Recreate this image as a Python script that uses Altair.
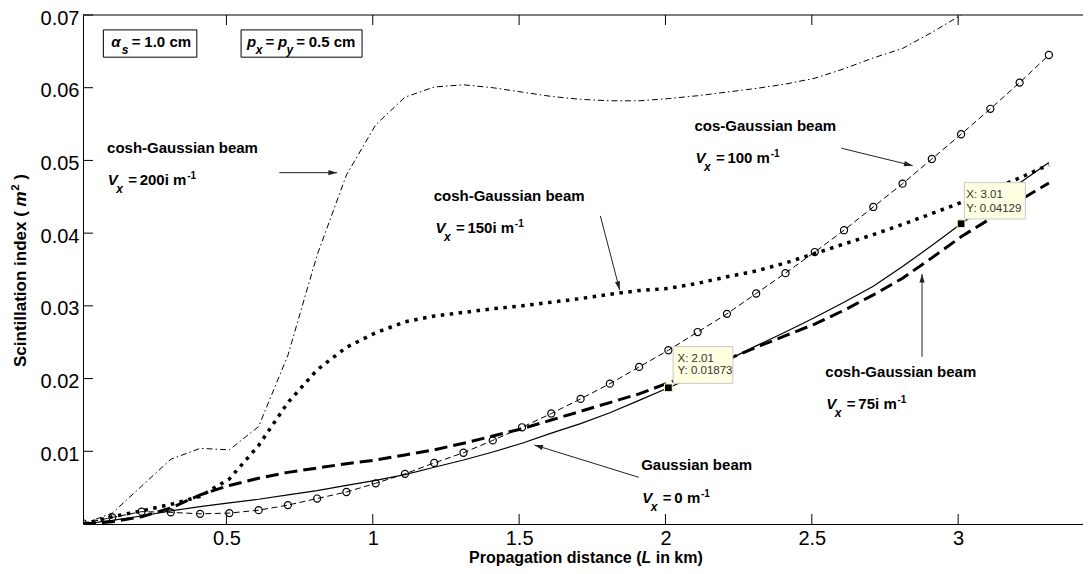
import math
import altair as alt
import pandas as pd

# ---------------- data ----------------
distance_km = [0.01, 0.11, 0.21, 0.31, 0.41, 0.51, 0.61, 0.71, 0.81, 0.91,
               1.01, 1.11, 1.21, 1.31, 1.41, 1.51, 1.61, 1.71, 1.81, 1.91,
               2.01, 2.11, 2.21, 2.31, 2.41, 2.51, 2.61, 2.71, 2.81, 2.91,
               3.01, 3.11, 3.21, 3.31]

gaussian_v0 = [0.0000, 0.0005, 0.0011, 0.0018, 0.0024, 0.0029, 0.0034, 0.0040, 0.0046, 0.0053,
               0.0060, 0.0068, 0.0078, 0.0088, 0.0099, 0.0111, 0.0125, 0.0138, 0.0153, 0.0170,
               0.01873, 0.0205, 0.0225, 0.0245, 0.0264, 0.0284, 0.0305, 0.0327, 0.0354, 0.0383,
               0.04129, 0.0441, 0.0469, 0.0497]

cosh_v75i = [0.0000, 0.0003, 0.0010, 0.0022, 0.0040, 0.0053, 0.0063, 0.0071, 0.0077, 0.0083,
             0.0088, 0.0095, 0.0102, 0.0111, 0.0121, 0.0131, 0.0143, 0.0155, 0.0167, 0.0179,
             0.0194, 0.0209, 0.0226, 0.0243, 0.0259, 0.0275, 0.0294, 0.0315, 0.0338, 0.0366,
             0.0395, 0.0420, 0.0445, 0.0469]

cosh_v150i = [0.0000, 0.0010, 0.0018, 0.0027, 0.0038, 0.0062, 0.0108, 0.0167, 0.0212, 0.0243,
              0.0263, 0.0278, 0.0286, 0.0291, 0.0296, 0.0300, 0.0305, 0.0310, 0.0316, 0.0321,
              0.0324, 0.0331, 0.0340, 0.0348, 0.0359, 0.0372, 0.0385, 0.0398, 0.0412, 0.0427,
              0.0442, 0.0459, 0.0476, 0.0494]

cos_v100 = [0.0001, 0.0009, 0.0017, 0.0016, 0.0014, 0.0015, 0.0019, 0.0026, 0.0035, 0.0044,
            0.0056, 0.0069, 0.0084, 0.0098, 0.0115, 0.0133, 0.0152, 0.0172, 0.0193, 0.0216,
            0.0239, 0.0264, 0.0289, 0.0317, 0.0345, 0.0374, 0.0404, 0.0436, 0.0468, 0.0502,
            0.0536, 0.0571, 0.0607, 0.0645]

# visible part of the 200i curve (it leaves the frame at 0.07)
cosh_v200i = [0.0000, 0.0015, 0.0052, 0.0089, 0.0104, 0.0102, 0.0134, 0.0232, 0.0370, 0.0480,
              0.0549, 0.0587, 0.0601, 0.0604, 0.0600, 0.0594, 0.0588, 0.0584, 0.0582, 0.0582,
              0.0585, 0.0589, 0.0594, 0.0599, 0.0605, 0.0613, 0.0626, 0.0641, 0.0654, 0.0676,
              0.0700]

x_ticks = [0.5, 1, 1.5, 2, 2.5, 3]
y_ticks = [0.01, 0.02, 0.03, 0.04, 0.05, 0.06, 0.07]

datatip_x = [2.01, 3.01]
datatip_y = [0.01873, 0.04129]
datatip_text_x = ["X: 2.01", "X: 3.01"]
datatip_text_y = ["Y: 0.01873", "Y: 0.04129"]

beam_names = ["cosh-Gaussian beam", "cosh-Gaussian beam", "cos-Gaussian beam",
              "cosh-Gaussian beam", "Gaussian beam"]
vx_values = ["200i m", "150i m", "100 m", "75i m", "0 m"]

# ---------------- layout ----------------
W, H = 1000, 509
X_MIN, X_MAX = 0.01, 3.4265
Y_MIN, Y_MAX = 0.0, 0.07
PX_X = W / (X_MAX - X_MIN)
PX_Y = H / (Y_MAX - Y_MIN)
FONT = "Liberation Sans"

xs = alt.Scale(domain=[X_MIN, X_MAX], nice=False, zero=False)
ys = alt.Scale(domain=[Y_MIN, Y_MAX], nice=False, zero=False)

X_AXIS = alt.Axis(values=x_ticks, format="~g", grid=False, ticks=False, tickSize=0,
                  domain=True, domainColor="black", domainWidth=1,
                  labelFont=FONT, labelFontSize=20, labelColor="black",
                  labelPadding=4.5, labelFlush=False, title=None)
Y_AXIS = alt.Axis(values=y_ticks, format=".2f", grid=False, ticks=False, tickSize=0,
                  domain=True, domainColor="black", domainWidth=1,
                  labelFont=FONT, labelFontSize=20, labelColor="black",
                  labelPadding=4, labelOffset=3, labelFlush=False, title=None)


def X(field):
    return alt.X(field, scale=xs, axis=X_AXIS, title=None)


def Y(field):
    return alt.Y(field, scale=ys, axis=Y_AXIS, title=None)


# annotation anchors (data coordinates, text baseline)
name_pos = [(0.0922, 0.05107), (1.2081, 0.04447), (2.0988, 0.0541), (2.5463, 0.02022), (1.917, 0.00743)]
vx_pos = [(0.0943, 0.04663), (1.2139, 0.03999), (2.1022, 0.04961), (2.5497, 0.01582), (1.9211, 0.00293)]
arrows = [  # (x start, y start, x end, y end)
    (0.6809, 0.04832, 0.8780, 0.04832),
    (1.7776, 0.04237, 1.8435, 0.03219),
    (2.6010, 0.05168, 2.8446, 0.04928),
    (2.8766, 0.02301, 2.8766, 0.03439),
    (1.9088, 0.00642, 1.5521, 0.01087),
]
param_boxes = [(0.0796, 0.3989, 0.06795, 0.06420), (0.5501, 0.9634, 0.06795, 0.06420)]
tip_boxes = [(2.0263, 2.2303, 0.02439, 0.01935), (3.0212, 3.2296, 0.04695, 0.04195)]
tip_text_pos = [(2.0410, 0.02232, 0.02059), (3.0280, 0.04480, 0.04296)]

CHAR_W = {"0": 556, "1": 556, "2": 556, "5": 556, "7": 556, "i": 278, " ": 278, "m": 889}


def text_width(s, size):
    return sum(CHAR_W.get(c, 556) for c in s) * size / 1000.0


pieces = []


def piece(x, y, dx, dy, text, style):
    pieces.append(dict(x=x + dx / PX_X, y=y - dy / PX_Y, text=text, style=style))


for (nx, ny), name in zip(name_pos, beam_names):
    piece(nx, ny, 0, 0, name, "b15")
for (vx, vy), val in zip(vx_pos, vx_values):
    piece(vx, vy, 0, 0, "V", "bi15")
    piece(vx, vy, 8.5, 8, "x", "bi12")
    piece(vx, vy, 20.5, 0, "=", "b15")
    piece(vx, vy, 32, 0, val, "b15")
    piece(vx, vy, 32 + text_width(val, 15) + 0.8, -6, "-1", "b10")

# parameter boxes
ax_, ay_ = 0.1069, 0.06566
piece(ax_, ay_, 0, 0, "α", "bi15")
piece(ax_, ay_, 10.5, 7, "s", "bi12")
piece(ax_, ay_, 20.5, 0, "=", "b15")
piece(ax_, ay_, 33, 0, "1.0 cm", "b15")
px_, py_ = 0.5706, 0.06566
piece(px_, py_, 0, 0, "p", "bi15")
piece(px_, py_, 8.7, 7, "x", "bi12")
piece(px_, py_, 18.4, 0, "=", "b15")
piece(px_, py_, 30.8, 0, "p", "bi15")
piece(px_, py_, 39.5, 7, "y", "bi12")
piece(px_, py_, 49.2, 0, "=", "b15")
piece(px_, py_, 61.6, 0, "0.5 cm", "b15")

for (tx, ty1, ty2), t1, t2 in zip(tip_text_pos, datatip_text_x, datatip_text_y):
    piece(tx, ty1, 0, 0, t1, "tip")
    piece(tx, ty2, 0, 0, t2, "tip")

pieces_df = pd.DataFrame(pieces)


# ---------------- layers ----------------
def series_df(xv, yv):
    return pd.DataFrame({"x": xv[:len(yv)], "y": yv})


def enc_xy():
    return dict(x=X("x:Q"), y=Y("y:Q"))


base_line = alt.Chart(series_df(distance_km, gaussian_v0)).mark_line(
    color="black", strokeWidth=1.2, clip=True).encode(**enc_xy())
line75 = alt.Chart(series_df(distance_km, cosh_v75i)).mark_line(
    color="black", strokeWidth=3, strokeDash=[13, 6], clip=True).encode(**enc_xy())
line150 = alt.Chart(series_df(distance_km, cosh_v150i)).mark_line(
    color="black", strokeWidth=3.5, strokeDash=[3.5, 5.5], clip=True).encode(**enc_xy())
line100 = alt.Chart(series_df(distance_km, cos_v100)).mark_line(
    color="black", strokeWidth=1, strokeDash=[6, 3.5], clip=True).encode(**enc_xy())
pts100 = alt.Chart(series_df(distance_km, cos_v100)).mark_point(
    shape="circle", filled=False, color="black", size=50, strokeWidth=1.2, opacity=1,
    clip=True).encode(**enc_xy())
line200 = alt.Chart(series_df(distance_km, cosh_v200i)).mark_line(
    color="black", strokeWidth=1, strokeDash=[6, 3, 1.5, 3], clip=True).encode(**enc_xy())

# frame ticks (inward) and top border
xt_df = pd.DataFrame({"x": x_ticks})
yt_df = pd.DataFrame({"y": y_ticks})
one_df = pd.DataFrame({"k": [0]})
bottom_ticks = alt.Chart(xt_df).mark_rule(color="black", strokeWidth=1).encode(
    x=X("x:Q"), y=alt.value(H), y2=alt.value(H - 10))
top_ticks = alt.Chart(xt_df).mark_rule(color="black", strokeWidth=1).encode(
    x=X("x:Q"), y=alt.value(0), y2=alt.value(10))
left_ticks = alt.Chart(yt_df).mark_rule(color="black", strokeWidth=1).encode(
    y=Y("y:Q"), x=alt.value(0), x2=alt.value(10))
top_border = alt.Chart(one_df).mark_rule(color="black", strokeWidth=1).encode(
    x=alt.value(0), x2=alt.value(W), y=alt.value(0))

# arrows
arrow_df = pd.DataFrame(arrows, columns=["x", "y", "x2", "y2"])
arrow_df["angle"] = [
    (math.degrees(math.atan2((x2 - x1) * PX_X, (y2 - y1) * PX_Y)) + 360) % 360
    for x1, y1, x2, y2 in arrows
]
arrow_lines = alt.Chart(arrow_df).mark_rule(color="#222222", strokeWidth=1).encode(
    x=X("x:Q"), y=Y("y:Q"), x2="x2:Q", y2="y2:Q")
arrow_heads = alt.Chart(arrow_df).mark_point(
    shape="M0,0L0.3,1L-0.3,1Z", filled=True, color="#222222", size=300, opacity=1
).encode(x=X("x2:Q"), y=Y("y2:Q"), angle=alt.Angle("angle:Q", scale=None))

# parameter boxes
pbox_df = pd.DataFrame(param_boxes, columns=["x", "x2", "y", "y2"])
pboxes = alt.Chart(pbox_df).mark_rect(fill="white", stroke="black", strokeWidth=1).encode(
    x=X("x:Q"), x2="x2:Q", y=Y("y:Q"), y2="y2:Q")

# data tips
tbox_df = pd.DataFrame(tip_boxes, columns=["x", "x2", "y", "y2"])
tboxes = alt.Chart(tbox_df).mark_rect(fill="#FFFFE1", stroke="#C8C8C8", strokeWidth=1).encode(
    x=X("x:Q"), x2="x2:Q", y=Y("y:Q"), y2="y2:Q")
tip_marks = alt.Chart(series_df(datatip_x, datatip_y)).mark_point(
    shape="square", filled=True, color="black", size=60, opacity=1,
    stroke="#FFFFC8", strokeWidth=1).encode(**enc_xy())


def text_layer(style, size, weight, italic=False, color="black"):
    props = dict(font=FONT, fontSize=size, fontWeight=weight, align="left",
                 baseline="alphabetic", color=color)
    if italic:
        props["fontStyle"] = "italic"
    return alt.Chart(pieces_df).transform_filter(
        alt.datum.style == style).mark_text(**props).encode(
        x=X("x:Q"), y=Y("y:Q"), text="text:N")


t_b15 = text_layer("b15", 15, "bold")
t_bi15 = text_layer("bi15", 15, "bold", True)
t_bi12 = text_layer("bi12", 12, "bold", True)
t_b10 = text_layer("b10", 10, "bold")
t_tip = text_layer("tip", 11.5, "normal", False, "#333333")

# axis titles (composed so that the symbols can be italic)
TFS = 16          # title font size
XT_X, XT_Y = 386, 548
SP = 0.278 * TFS  # width of a space
xt1 = alt.Chart(one_df).mark_text(font=FONT, fontSize=TFS, fontWeight="bold", align="left",
                                  baseline="alphabetic", text="Propagation distance (").encode(
    x=alt.value(XT_X), y=alt.value(XT_Y))
xt2 = alt.Chart(one_df).mark_text(font=FONT, fontSize=TFS, fontWeight="bold", fontStyle="italic",
                                  align="left", baseline="alphabetic", text="L").encode(
    x=alt.value(XT_X + 10.780 * TFS), y=alt.value(XT_Y))
xt3 = alt.Chart(one_df).mark_text(font=FONT, fontSize=TFS, fontWeight="bold", align="left",
                                  baseline="alphabetic", text="in km)").encode(
    x=alt.value(XT_X + 11.391 * TFS + SP), y=alt.value(XT_Y))

YT_X, YT_Y = -57, 352
yt1 = alt.Chart(one_df).mark_text(font=FONT, fontSize=17, fontWeight="bold", align="left",
                                  baseline="alphabetic", angle=270,
                                  text="Scintillation index (").encode(
    x=alt.value(YT_X), y=alt.value(YT_Y))
yt2 = alt.Chart(one_df).mark_text(font=FONT, fontSize=17, fontWeight="bold", fontStyle="italic",
                                  align="left", baseline="alphabetic", angle=270,
                                  dx=160.6, text="m").encode(
    x=alt.value(YT_X), y=alt.value(YT_Y))
yt3 = alt.Chart(one_df).mark_text(font=FONT, fontSize=11.5, fontWeight="bold",
                                  align="left", baseline="alphabetic", angle=270,
                                  dx=176.2, dy=-7, text="2").encode(
    x=alt.value(YT_X), y=alt.value(YT_Y))
yt4 = alt.Chart(one_df).mark_text(font=FONT, fontSize=17, fontWeight="bold",
                                  align="left", baseline="alphabetic", angle=270,
                                  dx=182.6 + 4.7, text=")").encode(
    x=alt.value(YT_X), y=alt.value(YT_Y))

chart = alt.layer(
    base_line, line75, line150, line100, pts100, line200,
    top_border, bottom_ticks, top_ticks, left_ticks,
    arrow_lines, arrow_heads, pboxes,
    t_b15, t_bi15, t_bi12, t_b10,
    tip_marks, tboxes, t_tip,
    xt1, xt2, xt3, yt1, yt2, yt3, yt4,
).properties(
    width=W, height=H,
    padding={"left": 75, "top": 7, "right": 0, "bottom": 42},
    autosize=alt.AutoSizeParams(type="none"),
    background="white",
).configure_view(strokeWidth=0)

chart.save("out.html", embed_options={"renderer": "svg", "actions": False})
